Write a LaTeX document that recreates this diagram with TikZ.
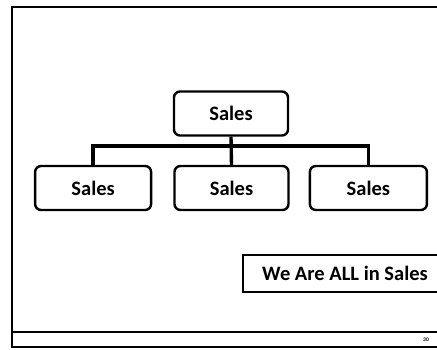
\documentclass[tikz,border=0pt]{standalone}
\usepackage{fontspec}
\setmainfont{Carlito}
\usetikzlibrary{calc,positioning}

\begin{document}
\begin{tikzpicture}[x=1pt,y=-1pt,
    unit/.style={draw,line width=2.4pt,rounded corners=6pt,minimum width=114pt,
        minimum height=44pt,font=\fontsize{20.5}{23}\selectfont\bfseries},
    link/.style={line width=3.4pt},
    motto/.style={draw,line width=2pt,minimum width=204pt,minimum height=37pt,
        font=\fontsize{20.5}{23}\selectfont\bfseries}]
    \useasboundingbox (0,0) rectangle (437,349);
    % slide frame
    \draw[line width=2.6pt] (446,7) -- (12,7) -- (12,347) -- (446,347);
    \draw[line width=2pt] (12,332) -- (446,332);
    \node[font=\fontsize{5.5}{6}\selectfont\bfseries] (page) at (426,340) {30};
    % chart
    \node[unit] (top) at (231,113.5) {Sales};
    \node[unit,minimum width=114pt] (mid) at (231.5,188) {Sales};
    \node[unit,minimum width=116pt,left=21pt of mid] (left) {Sales};
    \node[unit,minimum width=117pt,right=19pt of mid] (right) {Sales};
    \coordinate (bus) at (0,146);
    \draw[link] (top.south) -- (mid.north);
    \draw[link] (left.north) |- (right.north |- bus) -- (right.north);
    % slogan
    \node[motto] (slogan) at (345,273.5) {We Are ALL in Sales};
\end{tikzpicture}
\end{document}
